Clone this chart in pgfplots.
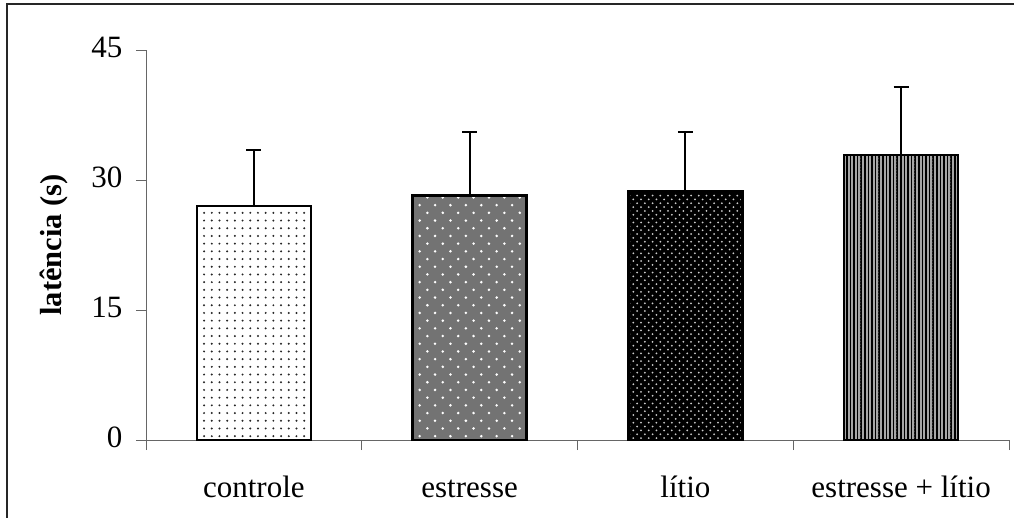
\documentclass[border=0pt]{standalone}
\usepackage{pgfplots}
\pgfplotsset{compat=1.18}
\usepackage{fontspec}
\setmainfont{Liberation Serif}
\usetikzlibrary{patterns}
\pgfdeclarepatternformonly{sparsedots}{\pgfqpoint{-1pt}{-1pt}}{\pgfqpoint{8pt}{8pt}}{\pgfqpoint{7.7pt}{7.7pt}}{%
  \pgfpathcircle{\pgfqpoint{3.85pt}{3.85pt}}{1.1pt}\pgfusepath{fill}}
\pgfdeclarepatternformonly{staggerdots}{\pgfqpoint{-2pt}{-2pt}}{\pgfqpoint{16pt}{16pt}}{\pgfqpoint{15.4pt}{15.4pt}}{%
  \pgfpathcircle{\pgfqpoint{3.85pt}{3.85pt}}{1.4pt}\pgfusepath{fill}%
  \pgfpathcircle{\pgfqpoint{11.55pt}{11.55pt}}{1.4pt}\pgfusepath{fill}}
\pgfdeclarepatternformonly{finedots}{\pgfqpoint{-1pt}{-1pt}}{\pgfqpoint{8pt}{8pt}}{\pgfqpoint{7.7pt}{7.7pt}}{%
  \pgfpathcircle{\pgfqpoint{1.9pt}{1.9pt}}{1.0pt}\pgfusepath{fill}%
  \pgfpathcircle{\pgfqpoint{5.75pt}{5.75pt}}{1.0pt}\pgfusepath{fill}}
\pgfdeclarepatternformonly{vstripes}{\pgfqpoint{0pt}{-1pt}}{\pgfqpoint{3.6pt}{4pt}}{\pgfqpoint{3.6pt}{3pt}}{%
  \pgfpathrectangle{\pgfqpoint{0pt}{-1pt}}{\pgfqpoint{1.6pt}{5pt}}\pgfusepath{fill}}
\begin{document}
\begin{tikzpicture}
\useasboundingbox (0,0) rectangle (1014pt,517pt);
\draw[line width=1.5pt, black!85] (7pt,-2pt) -- (7pt,513pt) -- (1016pt,513pt);
\begin{axis}[
  at={(146pt,77pt)}, anchor=south west,
  scale only axis, width=863pt, height=390pt,
  xmin=-0.5, xmax=3.5, ymin=0, ymax=45,
  axis lines=left, axis line style={-, black!60, line width=1pt},
  ytick={0,15,30,45},
  xtick={-0.5,0.5,1.5,2.5,3.5},
  x tick label as interval,
  xticklabels={controle, estresse, lítio, estresse + lítio},
  tick align=outside, major tick length=10pt,
  tick style={black!60, line width=1pt},
  /pgf/number format/assume math mode=true,
  tick label style={font=\fontsize{31}{35}\selectfont},
  yticklabel style={xshift=-10pt},
  typeset ticklabels with strut,
  xticklabel style={yshift=-19pt},
  ylabel={\textbf{latência (s)}},
  ylabel style={font=\fontsize{30.5}{35}\selectfont, yshift=17pt},
  ybar, bar width=114pt, bar shift=0pt,
  error bars/y dir=plus, error bars/y explicit,
  error bars/error bar style={line width=2pt, black},
  error bars/error mark options={rotate=90, mark size=7.5pt, line width=2pt, black},
  clip=false,
]
\addplot[draw=black, line width=2.5pt, fill=white, postaction={pattern=sparsedots, pattern color=black!85}]
  coordinates {(0,27.0) +- (0,6.5)};
\addplot[draw=black, line width=2.5pt, fill=black!55, postaction={pattern=staggerdots, pattern color=white}]
  coordinates {(1,28.2) +- (0,7.3)};
\addplot[draw=black, line width=2.5pt, fill=black, postaction={pattern=finedots, pattern color=black!20}]
  coordinates {(2,28.7) +- (0,6.8)};
\addplot[draw=black, line width=2.5pt, fill=black!35, postaction={pattern=vstripes, pattern color=black}]
  coordinates {(3,32.9) +- (0,7.8)};
\end{axis}
\end{tikzpicture}
\end{document}
